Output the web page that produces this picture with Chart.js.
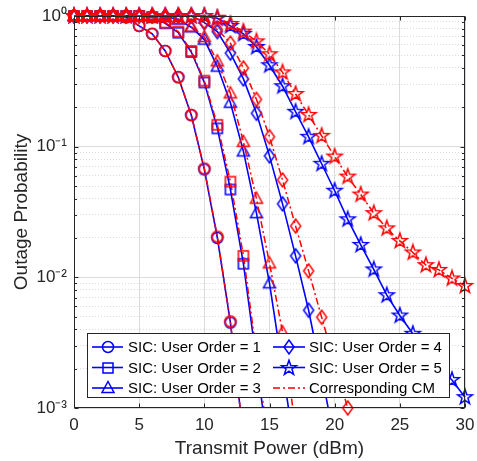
<!DOCTYPE html>
<html><head><meta charset="utf-8">
<script src="https://cdn.jsdelivr.net/npm/chart.js@4.4.1/dist/chart.umd.min.js"></script>
<style>html,body{margin:0;padding:0;background:#fff;}canvas{display:block;}</style>
</head><body>
<canvas id="c" width="477" height="461"></canvas>
<script>
// ---- data ----
const powerDbm = [0,1,2,3,4,5,6,7,8,9,10,11,12,13,14,15,16,17,18,19,20,21,22,23,24,25,26,27,28,29,30];
const N = null;
const sicOrder1 = [1,1,1,1,0.98,0.84,0.73,0.54,0.34,0.174,0.067,0.020,0.0045,0.0006,N,N,N,N,N,N,N,N,N,N,N,N,N,N,N,N,N];
const cmOrder1  = [1,1,1,1,0.98,0.84,0.73,0.54,0.34,0.175,0.068,0.0205,0.0046,0.0006,N,N,N,N,N,N,N,N,N,N,N,N,N,N,N,N,N];
const sicOrder2 = [1,1,1,1,1,1,0.98,0.88,0.745,0.53,0.31,0.138,0.047,0.0127,0.0023,0.0004,N,N,N,N,N,N,N,N,N,N,N,N,N,N,N];
const cmOrder2  = [1,1,1,1,1,1,0.98,0.89,0.76,0.54,0.32,0.147,0.054,0.0146,0.0026,0.00047,N,N,N,N,N,N,N,N,N,N,N,N,N,N,N];
const sicOrder3 = [1,1,1,1,1,1,1,0.99,0.94,0.82,0.66,0.41,0.217,0.092,0.031,0.009,0.002,0.00044,N,N,N,N,N,N,N,N,N,N,N,N,N];
const cmOrder3  = [1,1,1,1,1,1,1,0.99,0.95,0.83,0.69,0.45,0.256,0.109,0.040,0.0128,0.0038,0.0007,N,N,N,N,N,N,N,N,N,N,N,N,N];
const sicOrder4 = [1,1,1,1,1,1,1,1,1,1,0.89,0.76,0.52,0.33,0.18,0.085,0.0365,0.0146,0.0056,0.0018,0.00056,N,N,N,N,N,N,N,N,N,N];
const cmOrder4  = [1,1,1,1,1,1,1,1,1,1,0.90,0.79,0.62,0.40,0.23,0.119,0.0556,0.0247,0.0112,0.00495,0.0022,0.001,N,N,N,N,N,N,N,N,N];
const sicOrder5 = [1,1,1,1,1,1,1,1,1,1,1,0.96,0.84,0.73,0.58,0.42,0.29,0.185,0.119,0.074,0.046,0.0278,0.0177,0.0115,0.0073,0.0051,0.0037,0.0027,0.00204,0.00164,0.00121];
const cmOrder5  = [1,1,1,1,1,1,1,1,1,1,1,0.97,0.87,0.76,0.64,0.51,0.37,0.253,0.175,0.121,0.084,0.059,0.043,0.031,0.0237,0.019,0.0155,0.0124,0.0114,0.0098,0.0086];

const xTickValues = [0,5,10,15,20,25,30];
const yTickValues = [1,0.1,0.01,0.001];
const yTickLabels = ['10\u2070','10\u207B\u00B9','10\u207B\u00B2','10\u207B\u00B3'];
const xTitle = 'Transmit Power (dBm)';
const yTitle = 'Outage Probability';
const legendLabels = ['SIC: User Order = 1','SIC: User Order = 2','SIC: User Order = 3','SIC: User Order = 4','SIC: User Order = 5','Corresponding CM'];
const markerShapes = ['circle','square','triangle','diamond','star'];

// ---- styling ----
const FONT = '"Liberation Sans", Arial, Helvetica, sans-serif';
const BLUE = '#0000ff', RED = '#ff0000', AXIS = '#262626', GRID = '#dcdcdc';
const RED_DASH = [7,3,2,3];
const Y_MIN = 0.001, Y_MAX = 1;

function makeMarker(shape, color) {
  const s = 20, m = s / 2;
  const c = document.createElement('canvas'); c.width = s; c.height = s;
  const g = c.getContext('2d');
  g.strokeStyle = color; g.lineWidth = 1.5; g.beginPath();
  if (shape === 'circle') g.arc(m, m, 5.5, 0, Math.PI * 2);
  else if (shape === 'square') g.rect(m - 5, m - 5, 10, 10);
  else if (shape === 'triangle') { g.moveTo(m, m - 6.5); g.lineTo(m + 6, m + 4.5); g.lineTo(m - 6, m + 4.5); g.closePath(); }
  else if (shape === 'diamond') { g.moveTo(m, m - 7); g.lineTo(m + 5, m); g.lineTo(m, m + 7); g.lineTo(m - 5, m); g.closePath(); }
  else if (shape === 'star') {
    for (let k = 0; k < 10; k++) {
      const r = k % 2 ? 3.1 : 7.8, a = -Math.PI / 2 + k * Math.PI / 5;
      const px = m + r * Math.cos(a), py = m + r * Math.sin(a);
      k ? g.lineTo(px, py) : g.moveTo(px, py);
    }
    g.closePath();
  }
  g.stroke();
  return c;
}

const sicSeries = [sicOrder1, sicOrder2, sicOrder3, sicOrder4, sicOrder5];
const cmSeries = [cmOrder1, cmOrder2, cmOrder3, cmOrder4, cmOrder5];

function makeDataset(values, color, shape, solid, order) {
  // if a series never goes below the axis minimum, let its bottom marker show fully
  const staysInRange = values.every(v => v === null || v >= Y_MIN - 1e-12);
  return {
    data: powerDbm.map((x, i) => ({ x: x, y: values[i] })),
    borderColor: color, backgroundColor: color,
    borderWidth: solid ? 1.6 : 1.5,
    borderDash: solid ? [] : RED_DASH,
    pointStyle: makeMarker(shape, color),
    pointRadius: 6, pointHoverRadius: 6,
    fill: false, tension: 0, spanGaps: false,
    clip: { left: 12, top: 12, right: 12, bottom: staysInRange ? 10 : 0 },
    order: order
  };
}
const datasets = [];
sicSeries.forEach((s, i) => datasets.push(makeDataset(s, BLUE, markerShapes[i], true, 2)));
cmSeries.forEach((s, i) => datasets.push(makeDataset(s, RED, markerShapes[i], false, 1)));

// all log ticks (decades with minor 2..9)
const yTicksAll = [];
yTickValues.forEach(d => { for (let m = 1; m <= 9; m++) { const v = m * d; if (v <= Y_MAX + 1e-12) yTicksAll.push(v); } });
function majorIndex(v) { return yTickValues.findIndex(t => Math.abs(v / t - 1) < 1e-9); }

const framePlugin = {
  id: 'frameLegend',
  afterDatasetsDraw(chart) {
    const { ctx, chartArea: a, scales } = chart;
    const xs = scales.x, ys = scales.y;
    ctx.save();
    // legend box
    const L = 87, T = 333, R = 450, B = 398;
    ctx.fillStyle = '#fff'; ctx.fillRect(L, T, R - L, B - T);
    ctx.strokeStyle = AXIS; ctx.lineWidth = 1; ctx.setLineDash([]);
    ctx.strokeRect(L + 0.5, T + 0.5, R - L - 1, B - T - 1);
    const rows = [347, 367.5, 388];
    const cols = [{ x0: 92, x1: 123, tx: 128 }, { x0: 273, x1: 305, tx: 309 }];
    ctx.font = '15px ' + FONT; ctx.textBaseline = 'middle'; ctx.textAlign = 'left';
    legendLabels.forEach((lab, i) => {
      const col = cols[Math.floor(i / 3)], y = rows[i % 3];
      const isCM = i === 5;
      const color = isCM ? RED : BLUE;
      ctx.strokeStyle = color; ctx.lineWidth = isCM ? 1.5 : 1.6;
      ctx.setLineDash(isCM ? RED_DASH : []);
      ctx.beginPath(); ctx.moveTo(col.x0, y); ctx.lineTo(col.x1, y); ctx.stroke();
      ctx.setLineDash([]);
      if (!isCM) {
        const mk = datasets[i].pointStyle;
        ctx.drawImage(mk, Math.round((col.x0 + col.x1) / 2 - mk.width / 2), Math.round(y - mk.height / 2));
      }
      ctx.fillStyle = '#000';
      ctx.fillText(lab, col.tx, y + 1);
    });
    // frame
    ctx.strokeStyle = AXIS; ctx.lineWidth = 1;
    const l = Math.round(a.left) + 0.5, t = Math.round(a.top) + 0.5, r = Math.round(a.right) - 0.5, b = Math.round(a.bottom) - 0.5;
    ctx.strokeRect(l, t, r - l, b - t);
    // inward tick marks
    ctx.beginPath();
    xTickValues.forEach(v => {
      const px = Math.round(xs.getPixelForValue(v)) + 0.5;
      ctx.moveTo(px, b); ctx.lineTo(px, b - 4);
      ctx.moveTo(px, t); ctx.lineTo(px, t + 4);
    });
    yTicksAll.forEach(v => {
      const py = Math.round(ys.getPixelForValue(v)) + 0.5;
      const len = majorIndex(v) >= 0 ? 4 : 2.5;
      ctx.moveTo(l, py); ctx.lineTo(l + len, py);
      ctx.moveTo(r, py); ctx.lineTo(r - len, py);
    });
    ctx.stroke();
    ctx.restore();
  }
};

new Chart(document.getElementById('c'), {
  type: 'line',
  data: { datasets: datasets },
  options: {
    responsive: false, animation: false, events: [], devicePixelRatio: 1,
    layout: { padding: { top: 16, right: 12, left: 0, bottom: 0 } },
    plugins: { legend: { display: false }, tooltip: { enabled: false } },
    scales: {
      x: {
        type: 'linear', min: 0, max: 30,
        afterBuildTicks: s => { s.ticks = xTickValues.map(v => ({ value: v })); },
        afterFit: s => { s.height = 53; s.paddingLeft = 0; s.paddingRight = 0; },
        grid: { color: GRID, lineWidth: 1, drawTicks: false },
        border: { display: false },
        ticks: { autoSkip: false, padding: 7, maxRotation: 0, color: AXIS, font: { size: 17, family: FONT } },
        title: { display: true, text: xTitle, color: AXIS, font: { size: 19, family: FONT }, padding: { top: 0, bottom: 1 } }
      },
      y: {
        type: 'logarithmic', min: Y_MIN, max: Y_MAX,
        afterBuildTicks: s => { s.ticks = yTicksAll.map(v => ({ value: v })); },
        afterFit: s => { s.width = 74; s.paddingTop = 0; s.paddingBottom = 0; },
        grid: { color: GRID, lineWidth: 1, drawTicks: false },
        border: { display: false, dash: ctx => (ctx.tick && majorIndex(ctx.tick.value) < 0) ? [1, 2] : [] },
        ticks: {
          autoSkip: false, padding: 7, color: AXIS, font: { size: 17, family: FONT },
          callback: v => { const i = majorIndex(v); return i >= 0 ? yTickLabels[i] : ''; }
        },
        title: { display: true, text: yTitle, color: AXIS, font: { size: 19, family: FONT }, padding: { top: 10, bottom: 0 } }
      }
    }
  },
  plugins: [framePlugin]
});
</script>
</body></html>
